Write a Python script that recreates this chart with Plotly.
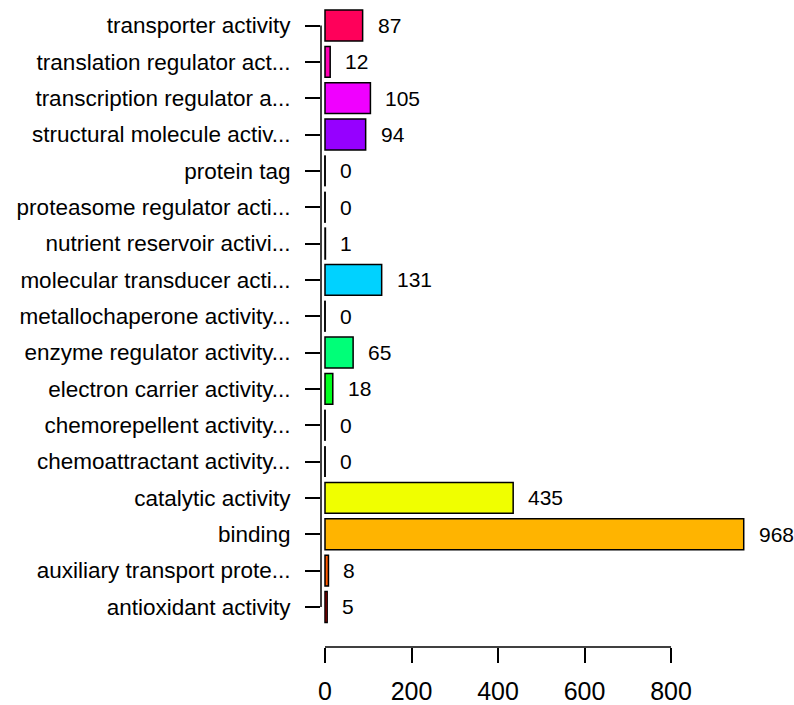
import plotly.graph_objects as go

categories = [
    "antioxidant activity",
    "auxiliary transport prote...",
    "binding",
    "catalytic activity",
    "chemoattractant activity...",
    "chemorepellent activity...",
    "electron carrier activity...",
    "enzyme regulator activity...",
    "metallochaperone activity...",
    "molecular transducer acti...",
    "nutrient reservoir activi...",
    "proteasome regulator acti...",
    "protein tag",
    "structural molecule activ...",
    "transcription regulator a...",
    "translation regulator act...",
    "transporter activity",
]
values = [5, 8, 968, 435, 0, 0, 18, 65, 0, 131, 1, 0, 0, 94, 105, 12, 87]
x_ticks = [0, 200, 400, 600, 800]

# R rainbow(17)
colors = ["#FF0000", "#FF5A00", "#FFB400", "#F0FF00", "#96FF00", "#3CFF00",
          "#00FF1E", "#00FF78", "#00FFD2", "#00D2FF", "#0078FF", "#001EFF",
          "#3C00FF", "#9600FF", "#F000FF", "#FF00B4", "#FF005A"]

FONT = "Arial, Liberation Sans, sans-serif"
pos = list(range(len(categories)))
bar_w = 0.85

fig = go.Figure()
fig.add_trace(go.Bar(
    x=values, y=pos, orientation="h", width=bar_w,
    marker=dict(color=colors, line=dict(color="black", width=1.5)),
    hoverinfo="skip", showlegend=False,
))

# zero-valued bars appear as a thin outline at x=0
zx, zy = [], []
for p, v in zip(pos, values):
    if v == 0:
        zx += [0, 0, None]
        zy += [p - bar_w / 2, p + bar_w / 2, None]
fig.add_trace(go.Scatter(x=zx, y=zy, mode="lines",
                         line=dict(color="black", width=1.5),
                         hoverinfo="skip", showlegend=False))

for p, v in zip(pos, values):
    fig.add_annotation(x=v, y=p, text=str(v), showarrow=False,
                       xanchor="left", yanchor="middle", xshift=13,
                       font=dict(family=FONT, size=21, color="black"))

# axis lines as in R (spanning only the tick range)
fig.add_shape(type="line", xref="x", yref="paper", x0=x_ticks[0], x1=x_ticks[-1],
              y0=0, y1=0, line=dict(color="black", width=1.5))
fig.add_shape(type="line", xref="paper", yref="y", x0=0, x1=0,
              y0=pos[0], y1=pos[-1], line=dict(color="black", width=1.5))

fig.update_layout(
    width=794, height=705,
    margin=dict(l=321, r=20, t=5, b=58),
    paper_bgcolor="white", plot_bgcolor="white",
    font=dict(family=FONT, color="black"),
    xaxis=dict(range=[-9.25, 1038], tickvals=x_ticks, ticks="outside",
               ticklen=15, tickwidth=1.5, tickcolor="black", automargin=False,
               showgrid=False, zeroline=False, showline=False,
               tickfont=dict(size=25, family=FONT), ticklabelstandoff=7),
    yaxis=dict(range=[-1.102, 16.564], tickvals=pos, ticktext=categories,
               ticks="outside", ticklen=15, tickwidth=1.5, tickcolor="black",
               automargin=False,
               showgrid=False, zeroline=False, showline=False,
               tickfont=dict(size=22.5, family=FONT), ticklabelstandoff=10),
)

fig.write_html("out.html",
               config={"displayModeBar": False},
               post_script="document.body.style.margin='0';document.body.style.overflow='hidden';")
